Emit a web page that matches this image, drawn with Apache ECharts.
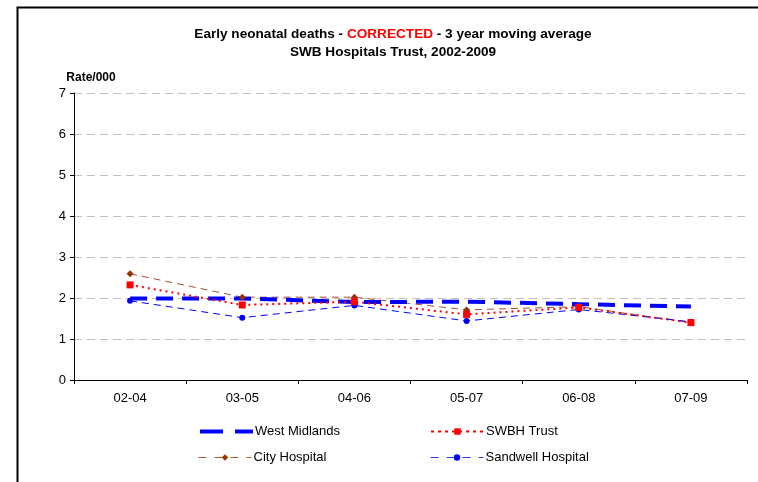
<!DOCTYPE html>
<html>
<head>
<meta charset="utf-8">
<script src="https://cdn.jsdelivr.net/npm/echarts@6/dist/echarts.min.js"></script>
<style>html,body{margin:0;padding:0;background:#fff}#c{width:758px;height:482px}</style>
</head>
<body>
<div id="c"></div>
<script>
var categories = ['02-04','03-05','04-06','05-07','06-08','07-09'];
var westMidlands = [1.99, 1.99, 1.90, 1.91, 1.85, 1.79];
var swbhTrust = [2.32, 1.83, 1.91, 1.60, 1.77, 1.40];
var cityHospital = [2.59, 2.02, 2.02, 1.71, 1.79, 1.40];
var sandwellHospital = [1.93, 1.52, 1.82, 1.44, 1.72, 1.42];
var yTicks = [0,1,2,3,4,5,6,7];

var FONT = '"Liberation Sans", Arial, sans-serif';
var chart = echarts.init(document.getElementById('c'), null, {renderer:'canvas'});

function leg(item, left, top) {
  return {
    data: [item], left: left, top: top, itemWidth: 53, itemHeight: 8, itemGap: 0,
    padding: 0, selectedMode: false,
    textStyle: {fontFamily: FONT, fontSize: 13, color: '#000', padding: [0,0,0,-3]}
  };
}

chart.setOption({
  animation: false,
  textStyle: {fontFamily: FONT},
  title: {
    text: '{a|Early neonatal deaths - }{r|CORRECTED}{a| - 3 year moving average}\n{a|SWB Hospitals Trust, 2002-2009}',
    left: 388, top: 20, textAlign: 'center',
    textStyle: {
      rich: {
        a: {fontFamily: FONT, fontSize: 13.6, fontWeight: 'bold', color: '#000', lineHeight: 18},
        r: {fontFamily: FONT, fontSize: 13.6, fontWeight: 'bold', color: '#FF0000', lineHeight: 18}
      }
    }
  },
  graphic: [{
    type: 'rect', left: 15, top: 5, shape: {width: 800, height: 600},
    style: {fill: 'none', stroke: '#000', lineWidth: 2}
  }],
  legend: [
    leg({name: 'West Midlands', itemStyle: {color: 'rgba(0,0,0,0)', opacity: 0, borderWidth: 0},
         lineStyle: {color: '#0000FF', width: 4, type: [23,12]}}, 198, 425),
    leg({name: 'SWBH Trust', lineStyle: {color: '#FF0000', width: 2, type: [3,4]}}, 430, 425),
    leg({name: 'City Hospital', lineStyle: {color: '#B0602E', width: 1, type: [8,8]}}, 198, 451),
    leg({name: 'Sandwell Hospital', lineStyle: {color: '#3333FF', width: 1, type: [8,8]}}, 430, 451)
  ],
  grid: {left: 74, right: 11, top: 93, bottom: 102},
  xAxis: {
    type: 'category', data: categories, boundaryGap: true,
    axisLine: {lineStyle: {color: '#000', width: 1}},
    axisTick: {show: true, length: 4, inside: false, lineStyle: {color: '#000'}},
    axisLabel: {color: '#000', fontSize: 13, fontFamily: FONT, margin: 12}
  },
  yAxis: {
    type: 'value', min: 0, max: 7, interval: 1,
    name: 'Rate/000', nameLocation: 'end', nameGap: 9,
    nameTextStyle: {color: '#000', fontWeight: 'bold', fontSize: 12, fontFamily: FONT, align: 'center', padding: [0,0,0,34]},
    axisLine: {show: true, lineStyle: {color: '#000', width: 1}},
    axisTick: {show: true, length: 4, lineStyle: {color: '#000'}},
    axisLabel: {color: '#000', fontSize: 13, fontFamily: FONT, margin: 8,
      formatter: function(v){ return yTicks.indexOf(v) >= 0 ? String(v) : ''; }},
    splitLine: {show: true, lineStyle: {color: '#c0c0c0', type: [8,5], width: 1}}
  },
  series: [
    {
      name: 'City Hospital', type: 'line', data: cityHospital,
      symbol: 'diamond', symbolSize: 7,
      itemStyle: {color: '#993300'},
      lineStyle: {color: '#A0522D', width: 1, type: [7,5]}
    },
    {
      name: 'Sandwell Hospital', type: 'line', data: sandwellHospital,
      symbol: 'circle', symbolSize: 6,
      itemStyle: {color: '#0000FF'},
      lineStyle: {color: '#0000FF', width: 1, type: [7,5]}
    },
    {
      name: 'West Midlands', type: 'line', data: westMidlands,
      symbol: 'none', showSymbol: false,
      itemStyle: {color: '#0000FF'},
      lineStyle: {color: '#0000FF', width: 4, type: [17,9]}
    },
    {
      name: 'SWBH Trust', type: 'line', data: swbhTrust,
      symbol: 'rect', symbolSize: 7,
      itemStyle: {color: '#FF0000'},
      lineStyle: {color: '#FF0000', width: 2, type: [2,4]}
    }
  ]
});
</script>
</body>
</html>
